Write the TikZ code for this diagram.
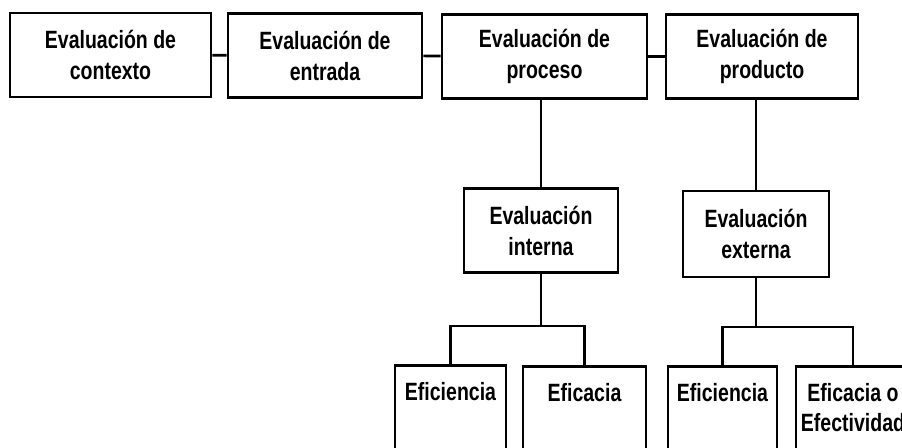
\documentclass[tikz,border=0pt]{standalone}
\usepackage{fontspec}
\newfontfamily\diagfont[FakeStretch=0.78]{Liberation Sans}
\usepackage{tikz}
\usetikzlibrary{shapes}
\usetikzlibrary{arrows}
\usetikzlibrary{positioning}
\begin{document}
\begin{tikzpicture}[x=0.5pt,y=-0.5pt,
  evalbox/.style={draw,line width=1.4pt,align=center,minimum height=42pt,
    font=\diagfont\bfseries\fontsize{12.5}{15.5}\selectfont},
  leafbox/.style={draw,line width=1.4pt,anchor=north,minimum height=60pt},
  leaftext/.style={anchor=north,inner sep=0pt,align=center,
    font=\diagfont\bfseries\fontsize{12.5}{15}\selectfont},
  link/.style={line width=1.3pt}]
  \useasboundingbox (0,0) rectangle (902,448);
  \clip (0,0) rectangle (902,448);
  \node[evalbox,minimum width=100.5pt] (ctx) at (110.5,55) {Evaluación de\\contexto};
  \node[evalbox,minimum width=97pt] (ent) at (325,55.5) {Evaluación de\\entrada};
  \node[evalbox,minimum width=102.5pt] (pro) at (544.5,56.5) {Evaluación de\\proceso};
  \node[evalbox,minimum width=96pt] (prd) at (762,56.5) {Evaluación de\\producto};
  \node[evalbox,minimum width=77pt] (int) at (541,230.5) {Evaluación\\interna};
  \node[evalbox,minimum width=73pt,minimum height=43pt] (ext) at (756,234) {Evaluación\\externa};
  \node[leafbox,minimum width=55.5pt] (intefi) at (450.5,364) {};
  \node[leafbox,minimum width=61.5pt] (inteca) at (584.5,365) {};
  \node[leafbox,minimum width=54.5pt] (extefi) at (722.5,365) {};
  \node[leafbox,minimum width=57pt] (exteca) at (853,365) {};
  \node[leaftext] (intefit) at ([yshift=-9pt]intefi.north) {Eficiencia};
  \node[leaftext] (intecat) at ([yshift=-9pt]inteca.north) {Eficacia};
  \node[leaftext] (extefit) at ([yshift=-9pt]extefi.north) {Eficiencia};
  \node[leaftext] (extecat) at ([yshift=-9pt]exteca.north) {Eficacia o\\Efectividad};
  \coordinate (intfork) at (int.south |- 0,326);
  \coordinate (extfork) at (ext.south |- 0,327);
  \draw[link] (ctx) -- (ent);
  \draw[link] (ent) -- (pro);
  \draw[link] (pro) -- (prd);
  \draw[link] (int.north |- pro.south) -- (int.north);
  \draw[link] (ext.north |- prd.south) -- (ext.north);
  \draw[link] (int.south) -- (intfork) -| (intefi.north);
  \draw[link] (intfork) -| (inteca.north);
  \draw[link] (ext.south) -- (extfork) -| (extefi.north);
  \draw[link] (extfork) -| (exteca.north);
\end{tikzpicture}
\end{document}
